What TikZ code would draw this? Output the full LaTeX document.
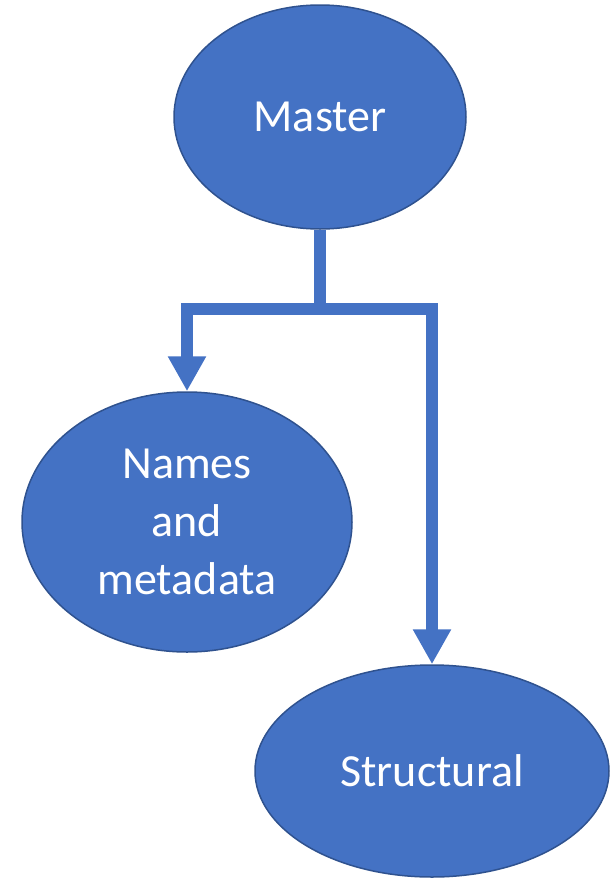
\documentclass[tikz,border=0pt]{standalone}
\usepackage{fontspec}
\setmainfont{Carlito}
\usetikzlibrary{shapes.geometric,arrows.meta}
\definecolor{officeblue}{HTML}{4472C4}
\definecolor{officeedge}{HTML}{2F528F}
\begin{document}
\begin{tikzpicture}[x=1pt,y=-1pt]
\tikzstyle{blob}=[draw=officeedge,line width=1.5pt,fill=officeblue,shape=ellipse,inner sep=0pt,text=white,align=center,font=\fontsize{46}{58}\selectfont]
\tikzstyle{conn}=[draw=officeblue,line width=12pt,line join=miter,-{Triangle[length=35pt,width=36pt]}]
\useasboundingbox (0,0) rectangle (615,881);
\node[blob,minimum width=292pt,minimum height=224pt] at (320,117) (master) {Master};
\node[blob,minimum width=330pt,minimum height=260pt] at (187,522) (names) {Names\\and\\metadata};
\node[blob,minimum width=354pt,minimum height=212pt] at (432,771) (struct) {Structural};
\coordinate (split) at (320,309);

\draw[draw=officeblue,line width=12pt] (master.south) -- ([yshift=6pt]split);
\draw[conn] (split) -| (names.north);
\draw[conn] (split) -| (struct.north);
\end{tikzpicture}
\end{document}
